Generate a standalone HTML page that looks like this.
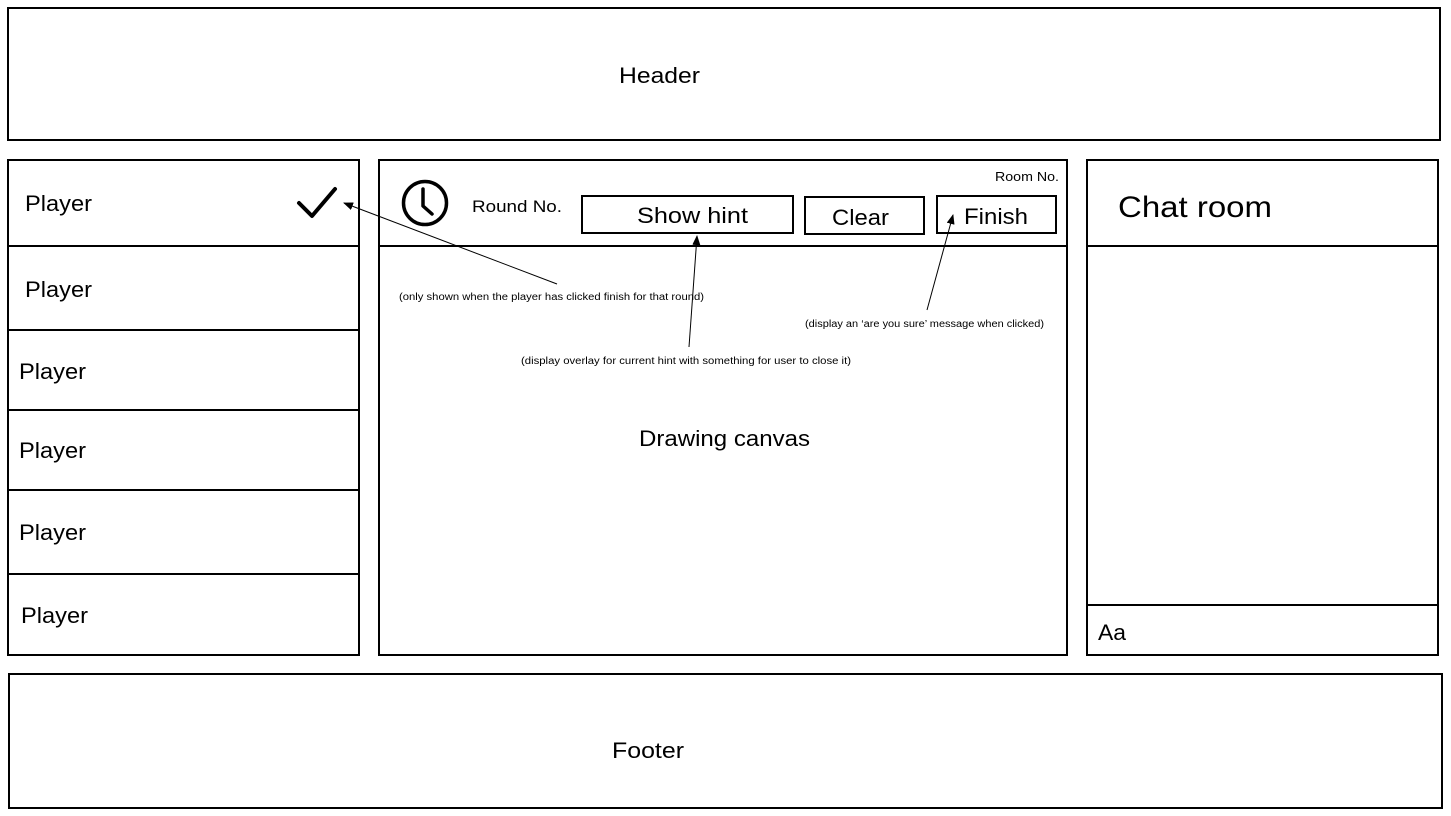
<!DOCTYPE html>
<html><head><meta charset="utf-8"><style>
html,body{margin:0;padding:0;background:#fff;}
svg{display:block;}
text{font-family:"Liberation Sans",sans-serif;fill:#000;}
</style></head><body>
<svg width="1451" height="816" viewBox="0 0 1451 816" xmlns="http://www.w3.org/2000/svg">
<defs>
<marker id="ah" markerWidth="10" markerHeight="8" refX="9" refY="4" orient="auto" markerUnits="userSpaceOnUse">
<path d="M0,0 L10,4 L0,8 z" fill="#000"/>
</marker>
</defs>
<g fill="none" stroke="#000" stroke-width="2">
<rect x="8" y="8" width="1432" height="132"/>
<rect x="8" y="160" width="351" height="495"/>
<line x1="8" y1="246" x2="359" y2="246"/>
<line x1="8" y1="330" x2="359" y2="330"/>
<line x1="8" y1="410" x2="359" y2="410"/>
<line x1="8" y1="490" x2="359" y2="490"/>
<line x1="8" y1="574" x2="359" y2="574"/>
<rect x="379" y="160" width="688" height="495"/>
<line x1="379" y1="246" x2="1067" y2="246"/>
<rect x="1087" y="160" width="351" height="495"/>
<line x1="1087" y1="246" x2="1438" y2="246"/>
<line x1="1087" y1="605" x2="1438" y2="605"/>
<rect x="9" y="674" width="1433" height="134"/>
<rect x="582" y="196" width="211" height="37"/>
<rect x="805" y="197" width="119" height="37"/>
<rect x="937" y="196" width="119" height="37"/>
<circle cx="425" cy="203" r="21.5" stroke-width="3.5"/>
<polyline points="423,189 423,206 432,214" stroke-width="3.5" stroke-linecap="round" stroke-linejoin="round"/>
<polyline points="299,203 312,216 335,189" stroke-width="4" stroke-linecap="round" stroke-linejoin="round"/>
</g>
<g stroke="#000" stroke-width="1" fill="none">
<line x1="557" y1="284" x2="344" y2="203" marker-end="url(#ah)"/>
<line x1="689" y1="347" x2="697" y2="236" marker-end="url(#ah)"/>
<line x1="927" y1="310" x2="953" y2="215" marker-end="url(#ah)"/>
</g>
<text x="619" y="83" font-size="22" textLength="81" lengthAdjust="spacingAndGlyphs">Header</text>
<text x="612" y="758" font-size="22" textLength="72" lengthAdjust="spacingAndGlyphs">Footer</text>
<text x="25" y="211" font-size="22" textLength="67" lengthAdjust="spacingAndGlyphs">Player</text>
<text x="25" y="297" font-size="22" textLength="67" lengthAdjust="spacingAndGlyphs">Player</text>
<text x="19" y="379" font-size="22" textLength="67" lengthAdjust="spacingAndGlyphs">Player</text>
<text x="19" y="458" font-size="22" textLength="67" lengthAdjust="spacingAndGlyphs">Player</text>
<text x="19" y="540" font-size="22" textLength="67" lengthAdjust="spacingAndGlyphs">Player</text>
<text x="21" y="623" font-size="22" textLength="67" lengthAdjust="spacingAndGlyphs">Player</text>
<text x="472" y="212" font-size="17" textLength="90" lengthAdjust="spacingAndGlyphs">Round No.</text>
<text x="995" y="181" font-size="13" textLength="64" lengthAdjust="spacingAndGlyphs">Room No.</text>
<text x="637" y="223" font-size="22" textLength="111" lengthAdjust="spacingAndGlyphs">Show hint</text>
<text x="832" y="225" font-size="22" textLength="57" lengthAdjust="spacingAndGlyphs">Clear</text>
<text x="964" y="224" font-size="22" textLength="64" lengthAdjust="spacingAndGlyphs">Finish</text>
<text x="1118" y="217" font-size="30" textLength="154" lengthAdjust="spacingAndGlyphs">Chat room</text>
<text x="1098" y="640" font-size="22" textLength="28" lengthAdjust="spacingAndGlyphs">Aa</text>
<text x="639" y="446" font-size="22" textLength="171" lengthAdjust="spacingAndGlyphs">Drawing canvas</text>
<text x="399" y="300" font-size="10" textLength="305" lengthAdjust="spacingAndGlyphs">(only shown when the player has clicked finish for that round)</text>
<text x="805" y="327" font-size="10" textLength="239" lengthAdjust="spacingAndGlyphs">(display an ‘are you sure’ message when clicked)</text>
<text x="521" y="364" font-size="10" textLength="330" lengthAdjust="spacingAndGlyphs">(display overlay for current hint with something for user to close it)</text>
</svg>
</body></html>
